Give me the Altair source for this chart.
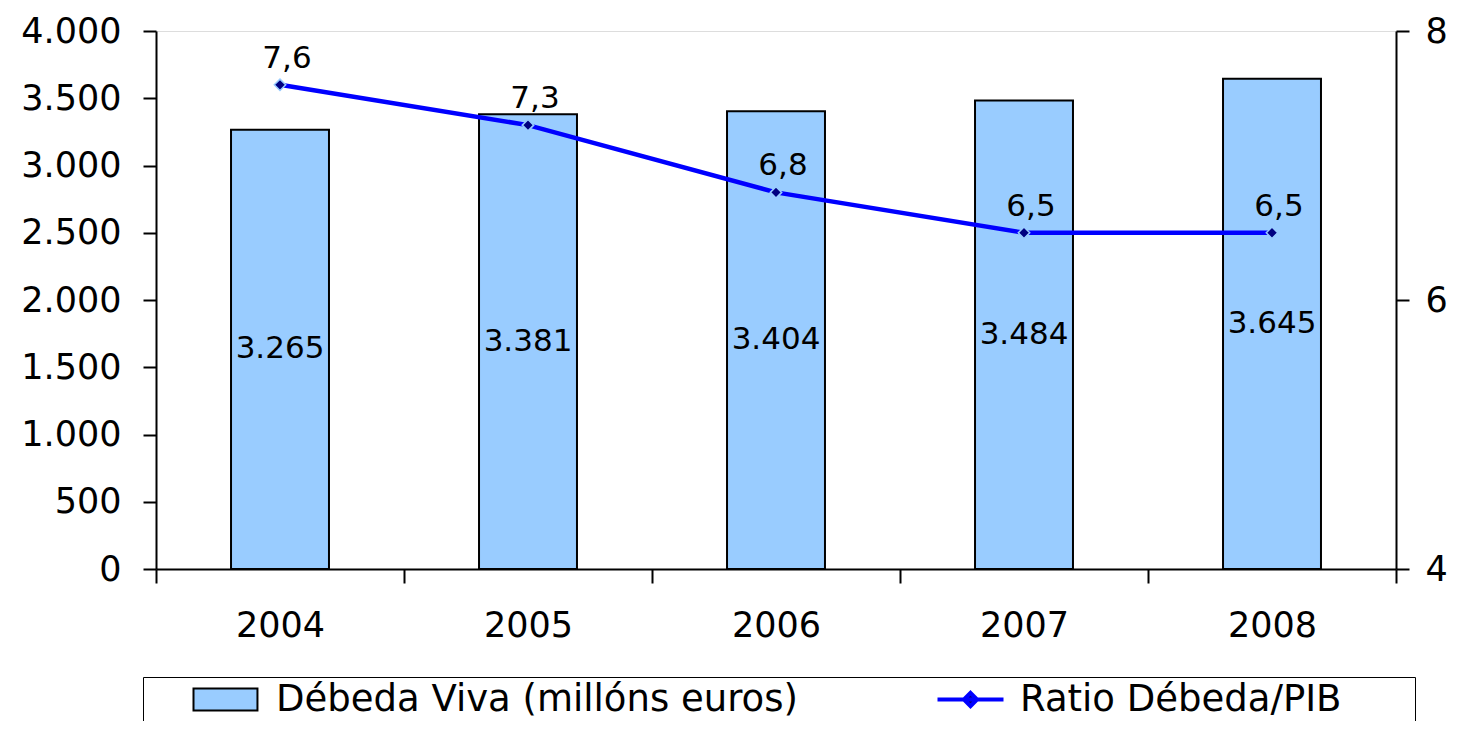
import altair as alt
import pandas as pd

# ---- data ----
years = ["2004", "2005", "2006", "2007", "2008"]
debeda = [3265, 3381, 3404, 3484, 3645]          # Débeda Viva (millóns euros)
ratio = [7.6, 7.3, 6.8, 6.5, 6.5]                # Ratio Débeda/PIB
debeda_labels = ["3.265", "3.381", "3.404", "3.484", "3.645"]
ratio_labels = ["7,6", "7,3", "6,8", "6,5", "6,5"]
series = ["Débeda Viva (millóns euros)", "Ratio Débeda/PIB"]
left_ticks = [0, 500, 1000, 1500, 2000, 2500, 3000, 3500, 4000]
right_ticks = [4, 6, 8]

df = pd.DataFrame({
    "ano": years,
    "debeda": debeda,
    "ratio": ratio,
    "debeda_lbl": debeda_labels,
    "ratio_lbl": ratio_labels,
    "serie_bar": [series[0]] * len(years),
    "serie_line": [series[1]] * len(years),
})

FONT = "DejaVu Sans"
BAR_FILL = "#99CCFF"
LINE_COL = "#0000FF"
MARK_COL = "#000080"

x_axis = alt.Axis(title=None, labelAngle=0, tickBand="extent", grid=False,
                  domainColor="black", domainWidth=2, tickColor="black",
                  tickWidth=2, tickSize=14, labelFontSize=35, labelFont=FONT,
                  labelColor="black", labelPadding=25)
x_enc = alt.X("ano:N", sort=years,
              scale=alt.Scale(paddingInner=0, paddingOuter=0), axis=x_axis)

left_scale = alt.Scale(domain=[0, 4000], nice=False, zero=True)
right_scale = alt.Scale(domain=[4, 8], nice=False, zero=False)

left_axis = alt.Axis(title=None, values=left_ticks, grid=False,
                     labelExpr="replace(format(datum.value, ','), ',', '.')",
                     domainColor="black", domainWidth=2, tickColor="black",
                     tickWidth=2, tickSize=13, labelFontSize=35, labelFont=FONT,
                     labelColor="black", labelPadding=22)
right_axis = alt.Axis(title=None, orient="right", values=right_ticks, grid=False,
                      format="d", domainColor="black", domainWidth=2,
                      tickColor="black", tickWidth=2, tickSize=13,
                      labelFontSize=35, labelFont=FONT, labelColor="black",
                      labelPadding=16)

# legend symbols (custom paths, unit = half the nominal symbol size);
# the trailing move-to in the bar symbol only widens the legend frame
rect_path = "M-1,-0.92H4.33V0.92H-1ZM100.1,0"
line_path = "M-1,0H4.5M1.75,-0.55L2.3,0L1.75,0.55L1.2,0Z"

# legend of the bars: also carries the frame around both entries
bar_legend = alt.Legend(
    orient="none", legendX=-13, legendY=646, direction="horizontal",
    title=" ", titleOrient="left", titleFontSize=1, titlePadding=40,
    padding=4, strokeColor="black",
    symbolType=rect_path, symbolSize=576, symbolStrokeColor="black",
    symbolStrokeWidth=2, symbolOpacity=1,
    labelFontSize=37, labelFont=FONT, labelColor="black",
    labelOffset=52, labelLimit=2000,
)
# legend of the line, placed inside the same frame
line_legend = alt.Legend(
    orient="none", legendX=775, legendY=650, direction="horizontal",
    title=None, padding=0,
    symbolType=line_path, symbolSize=576, symbolFillColor=MARK_COL,
    symbolStrokeWidth=4, symbolOpacity=1,
    labelFontSize=37, labelFont=FONT, labelColor="black",
    labelOffset=52, labelLimit=2000,
)

base = alt.Chart(df)

bars = base.mark_bar(width=alt.RelativeBandSize(0.395), stroke="black",
                     strokeWidth=2, opacity=1).encode(
    x=x_enc,
    y=alt.Y("debeda:Q", scale=left_scale, axis=left_axis),
    fill=alt.Fill("serie_bar:N",
                  scale=alt.Scale(domain=[series[0]], range=[BAR_FILL]),
                  legend=bar_legend),
)

bar_text = base.transform_calculate(mid="datum.debeda / 2").mark_text(
    fontSize=31, font=FONT, color="black", baseline="middle", align="center"
).encode(
    x=x_enc,
    y=alt.Y("mid:Q", scale=left_scale, axis=left_axis),
    text="debeda_lbl:N",
)

line = base.mark_line(strokeWidth=4.5).encode(
    x=x_enc,
    y=alt.Y("ratio:Q", scale=right_scale, axis=right_axis),
    stroke=alt.Stroke("serie_line:N",
                      scale=alt.Scale(domain=[series[1]], range=[LINE_COL]),
                      legend=line_legend),
)

points = base.mark_point(shape="diamond", filled=True, size=130, fill=MARK_COL,
                         stroke=BAR_FILL, strokeWidth=1.5, opacity=1).encode(
    x=x_enc,
    y=alt.Y("ratio:Q", scale=right_scale, axis=right_axis),
)

line_text = base.mark_text(fontSize=31, font=FONT, color="black", dy=-26, dx=7,
                           baseline="middle", align="center").encode(
    x=x_enc,
    y=alt.Y("ratio:Q", scale=right_scale, axis=right_axis),
    text="ratio_lbl:N",
)

left_layer = alt.layer(bars, bar_text)
right_layer = alt.layer(line, points, line_text)

chart = alt.layer(left_layer, right_layer).resolve_scale(
    y="independent"
).properties(
    width=1240, height=538,
    autosize=alt.AutoSizeParams(type="none"),
    padding={"left": 148, "top": 23, "right": 53, "bottom": 152},
).configure_view(stroke=None).configure(font=FONT)

chart.save("out.html", embed_options={"renderer": "svg", "actions": False})
